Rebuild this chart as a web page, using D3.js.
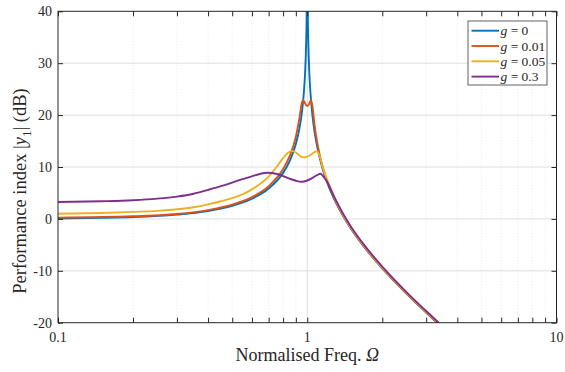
<!DOCTYPE html>
<html>
<head>
<meta charset="utf-8">
<script src="https://cdn.jsdelivr.net/npm/d3@7/dist/d3.min.js"></script>
<style>
  body { margin: 0; background: #fff; }
  svg text { font-family: "Liberation Serif", "Times New Roman", serif; fill: #262626; }
</style>
</head>
<body>
<div id="chart"></div>
<script>
// values (Omega, dB)
const gLabels = ["0", "0.01", "0.05", "0.3"];

const freqG0 = [0.1, 0.15, 0.2, 0.3, 0.4, 0.5, 0.6, 0.7, 0.8, 0.85, 0.9, 0.93, 0.95, 0.97, 0.98, 0.99, 0.995, 0.999,
  1.001, 1.005, 1.01, 1.02, 1.03, 1.05, 1.07, 1.1, 1.15, 1.2, 1.3, 1.4, 1.5, 1.7, 2, 2.5, 3, 3.5, 4];
const magG0 = [0.09, 0.2, 0.35, 0.82, 1.51, 2.5, 3.88, 5.85, 8.87, 11.13, 14.42, 17.39, 20.22, 24.57, 28.05, 34.02, 40.02, 53.98,
  53.97, 39.98, 33.94, 27.87, 24.31, 19.79, 16.78, 13.56, 9.83, 7.13, 3.22, 0.35, -1.94, -5.53, -9.54, -14.4, -18.06, -21.02, -23.52];

const freqG001 = [0.1, 0.2, 0.3, 0.4, 0.5, 0.6, 0.7, 0.8, 0.85, 0.9, 0.93, 0.95, 0.96, 0.975, 0.99, 1.0, 1.01, 1.025, 1.035,
  1.05, 1.07, 1.1, 1.15, 1.2, 1.3, 1.4, 1.5, 1.7, 2, 2.5, 3, 3.5, 4];
const magG001 = [0.25, 0.5, 0.95, 1.7, 2.75, 4.2, 6.3, 9.6, 12.1, 15.8, 19.4, 22.2, 22.9, 22.5, 21.9, 21.75, 21.9, 22.5, 22.9,
  21.6, 18.0, 14.3, 10.2, 7.4, 3.4, 0.45, -1.85, -5.45, -9.5, -14.35, -18.0, -21.0, -23.5];

const freqG005 = [0.1, 0.15, 0.2, 0.25, 0.3, 0.35, 0.4, 0.45, 0.5, 0.55, 0.6, 0.65, 0.7, 0.75, 0.8, 0.84, 0.87, 0.9, 0.94, 0.97,
  1.0, 1.04, 1.09, 1.12, 1.14, 1.16, 1.2, 1.25, 1.3, 1.4, 1.5, 1.7, 2, 2.5, 3, 3.5, 4];
const magG005 = [1.0, 1.15, 1.35, 1.55, 1.85, 2.25, 2.8, 3.4, 4.0, 4.75, 5.7, 6.8, 8.15, 9.9, 11.7, 12.8, 13.05, 12.8, 12.05, 11.85,
  12.0, 12.45, 13.05, 12.2, 10.9, 9.6, 7.6, 5.6, 3.6, 0.55, -1.75, -5.35, -9.4, -14.25, -17.9, -20.9, -23.4];

const freqG03 = [0.1, 0.15, 0.2, 0.25, 0.3, 0.35, 0.4, 0.45, 0.5, 0.55, 0.6, 0.65, 0.69, 0.75, 0.8, 0.85, 0.9, 0.95, 1.0, 1.05,
  1.1, 1.13, 1.16, 1.2, 1.25, 1.3, 1.4, 1.5, 1.7, 2, 2.5, 3, 3.5, 4];
const magG03 = [3.25, 3.4, 3.6, 3.9, 4.3, 4.85, 5.6, 6.3, 7.0, 7.65, 8.2, 8.7, 8.9, 8.7, 8.25, 7.75, 7.35, 7.15, 7.4, 7.9,
  8.5, 8.7, 8.2, 7.2, 5.4, 3.7, 0.8, -1.55, -5.15, -9.2, -14.1, -17.75, -20.75, -23.25];

const xTicks = [0.1, 1, 10];
const xTickLabels = ["0.1", "1", "10"];
const xMinorTicks = [0.2, 0.3, 0.4, 0.5, 0.6, 0.7, 0.8, 0.9, 2, 3, 4, 5, 6, 7, 8, 9];
const yTicks = [-20, -10, 0, 10, 20, 30, 40];

const colors = ["#0072BD", "#D95319", "#EDB120", "#7E2F8E"];

const series = [
  { freq: freqG0, mag: magG0 },
  { freq: freqG001, mag: magG001 },
  { freq: freqG005, mag: magG005 },
  { freq: freqG03, mag: magG03 }
];

const width = 565, height = 372;
const margin = { top: 11.3, right: 8.5, bottom: 49.3, left: 58 };
const innerW = width - margin.left - margin.right;
const innerH = height - margin.top - margin.bottom;

const svg = d3.select("#chart")
  .append("svg")
  .attr("width", width)
  .attr("height", height);

const g = svg.append("g")
  .attr("transform", "translate(" + margin.left + "," + margin.top + ")");

const x = d3.scaleLog().domain([0.1, 10]).range([0, innerW]);
const y = d3.scaleLinear().domain([-20, 40]).range([innerH, 0]);

// grid
g.selectAll(".minor-grid")
  .data(xMinorTicks)
  .enter()
  .append("line")
  .attr("x1", d => x(d)).attr("x2", d => x(d))
  .attr("y1", 0).attr("y2", innerH)
  .attr("stroke", "#e4e4e4")
  .attr("stroke-width", 0.8)
  .attr("stroke-dasharray", "1,2");

g.selectAll(".grid-x")
  .data([1])
  .enter()
  .append("line")
  .attr("x1", d => x(d)).attr("x2", d => x(d))
  .attr("y1", 0).attr("y2", innerH)
  .attr("stroke", "#dedede")
  .attr("stroke-width", 1);

g.selectAll(".grid-y")
  .data(yTicks.filter(d => d > -20 && d < 40))
  .enter()
  .append("line")
  .attr("x1", 0).attr("x2", innerW)
  .attr("y1", d => y(d)).attr("y2", d => y(d))
  .attr("stroke", "#dedede")
  .attr("stroke-width", 1);

// curves
svg.append("defs").append("clipPath")
  .attr("id", "plot-clip")
  .append("rect")
  .attr("width", innerW)
  .attr("height", innerH);

const line = d3.line()
  .x(d => x(d[0]))
  .y(d => y(d[1]))
  .curve(d3.curveMonotoneX);

g.append("g")
  .attr("clip-path", "url(#plot-clip)")
  .selectAll("path")
  .data(series)
  .enter()
  .append("path")
  .attr("d", d => line(d.freq.map((f, i) => [f, d.mag[i]])))
  .attr("fill", "none")
  .attr("stroke", (d, i) => colors[i])
  .attr("stroke-width", 1.9)
  .attr("stroke-linejoin", "round");

// axes (MATLAB style, ticks pointing inward on all four sides)
const tickLen = 5;
const xAll = xTicks.concat(xMinorTicks);

g.append("g")
  .attr("transform", "translate(0," + innerH + ")")
  .call(d3.axisBottom(x).tickValues(xAll).tickSize(-tickLen).tickFormat(""))
  .call(a => a.select(".domain").remove());

g.append("g")
  .call(d3.axisTop(x).tickValues(xAll).tickSize(-tickLen).tickFormat(""))
  .call(a => a.select(".domain").remove());

g.append("g")
  .call(d3.axisLeft(y).tickValues(yTicks).tickSize(-tickLen).tickFormat(""))
  .call(a => a.select(".domain").remove());

g.append("g")
  .attr("transform", "translate(" + innerW + ",0)")
  .call(d3.axisRight(y).tickValues(yTicks).tickSize(-tickLen).tickFormat(""))
  .call(a => a.select(".domain").remove());

g.selectAll(".tick line").attr("stroke", "#262626").attr("stroke-width", 1);

g.append("rect")
  .attr("width", innerW)
  .attr("height", innerH)
  .attr("fill", "none")
  .attr("stroke", "#262626")
  .attr("stroke-width", 1);

// tick labels
g.selectAll(".xlab")
  .data(xTicks)
  .enter()
  .append("text")
  .attr("x", d => x(d))
  .attr("y", innerH + 19)
  .attr("text-anchor", "middle")
  .style("font-size", "14px")
  .text((d, i) => xTickLabels[i]);

g.selectAll(".ylab")
  .data(yTicks)
  .enter()
  .append("text")
  .attr("x", -6)
  .attr("y", d => y(d) + 5)
  .attr("text-anchor", "end")
  .style("font-size", "14px")
  .text(d => d);

// axis titles
const xTitle = svg.append("text")
  .attr("x", margin.left + x(1))
  .attr("y", 361)
  .attr("text-anchor", "middle")
  .style("font-size", "18px");
xTitle.append("tspan").text("Normalised Freq. ");
xTitle.append("tspan").style("font-style", "italic").text("Ω");

const yTitle = svg.append("text")
  .attr("transform", "translate(26," + 191 + ") rotate(-90)")
  .attr("text-anchor", "middle")
  .style("font-size", "18.5px");
yTitle.append("tspan").text("Performance index |");
yTitle.append("tspan").style("font-style", "italic").text("y");
yTitle.append("tspan").attr("dy", 5).style("font-size", "13px").text("1");
yTitle.append("tspan").attr("dy", -5).text("| (dB)");

// legend
const legend = svg.append("g").attr("transform", "translate(468,21)");
legend.append("rect")
  .attr("width", 79)
  .attr("height", 64)
  .attr("fill", "#fff")
  .attr("stroke", "#3a3a3a")
  .attr("stroke-width", 0.8);

const rows = legend.selectAll(".row")
  .data(gLabels)
  .enter()
  .append("g")
  .attr("transform", (d, i) => "translate(0," + (9.7 + i * 15.3) + ")");

rows.append("line")
  .attr("x1", 3.5).attr("x2", 31)
  .attr("stroke", (d, i) => colors[i])
  .attr("stroke-width", 1.9);

const rowText = rows.append("text")
  .attr("x", 32.5)
  .attr("y", 4.5)
  .style("font-size", "13.5px");
rowText.append("tspan").style("font-style", "italic").text("g");
rowText.append("tspan").text(d => " = " + d);
</script>
</body>
</html>
